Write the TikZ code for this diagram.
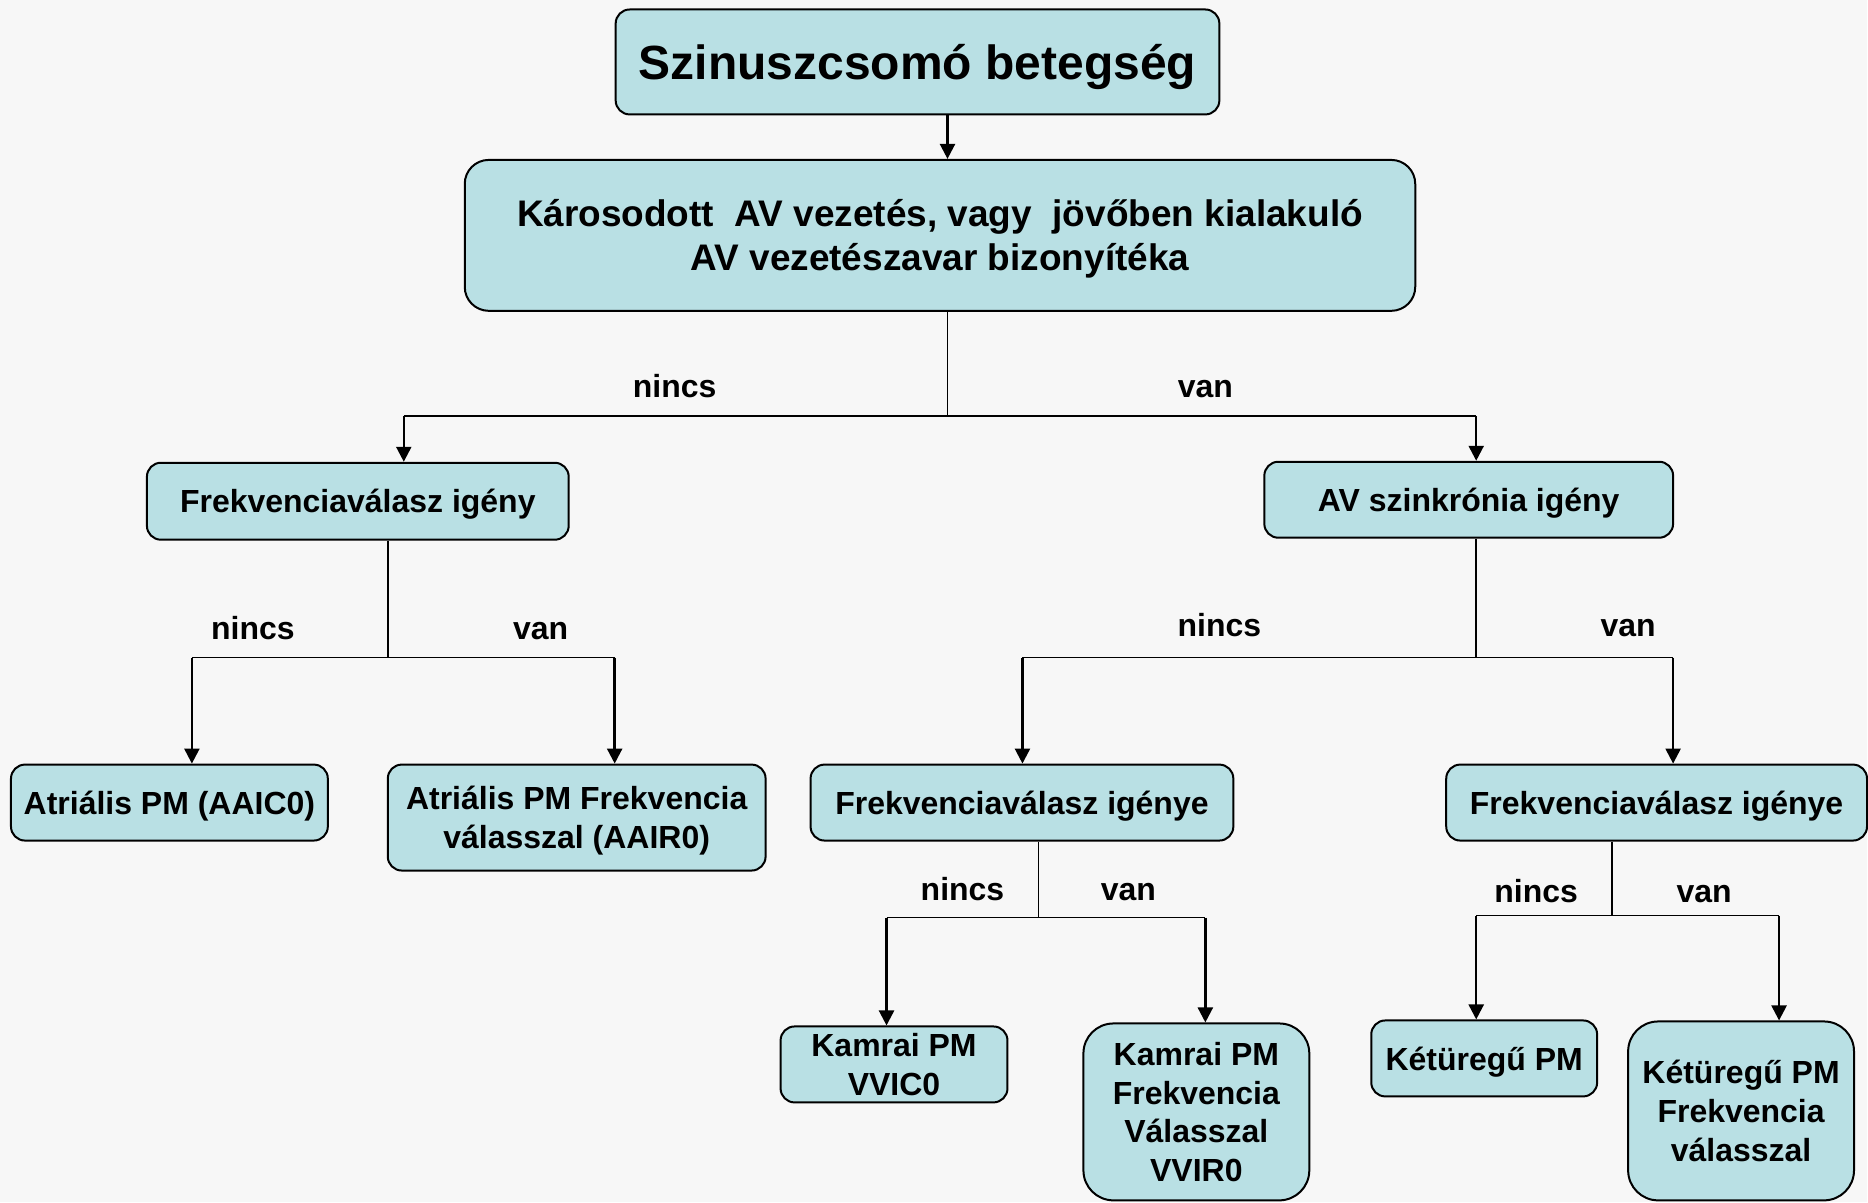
\documentclass[tikz,border=0pt]{standalone}
\usepackage{fontspec}
\setmainfont{Liberation Sans}
\usetikzlibrary{arrows.meta}
\definecolor{boxfill}{RGB}{185,224,228}
\definecolor{bgfill}{RGB}{247,247,247}
\begin{document}
\begin{tikzpicture}[x=0.5pt, y=-0.5pt,
      box/.style={draw, line width=1pt, fill=boxfill, rounded corners=7pt, align=center,
        inner sep=0pt, text depth=0pt, font=\bfseries\fontsize{16}{19.4}\selectfont},
      tallbox/.style={box, rounded corners=15pt},
      lbl/.style={text height=11.6pt, text depth=0pt, font=\bfseries\fontsize{16}{19.2}\selectfont},
      link/.style={line width=0.8pt},
      arr/.style={line width=1.2pt, -{Triangle[length=7.5pt, width=7.5pt]}}]
  \fill[bgfill] (0,0) rectangle (1868,1203);
  % boxes
  \node[box, minimum width=302pt, minimum height=52.5pt,
    font=\bfseries\fontsize{24}{28}\selectfont] (szin) at (918,62) {Szinuszcsomó betegség};
  \node[box, rounded corners=12pt, minimum width=475.5pt, minimum height=75.5pt,
    font=\bfseries\fontsize{18.5}{22}\selectfont] (kar) at (940.5,235.5)
    {Károsodott~ AV vezetés, vagy~ jövőben kialakuló\\AV vezetészavar bizonyítéka};
  \node[box, minimum width=211pt, minimum height=38.5pt] (fri) at (358,501.5) {Frekvenciaválasz igény};
  \node[box, minimum width=204.5pt, minimum height=38pt] (avsz) at (1469.5,500) {AV szinkrónia igény};
  \node[box, minimum width=158.5pt, minimum height=38pt] (aaic) at (169.5,803) {Atriális PM (AAIC0)};
  \node[box, minimum width=189pt, minimum height=53pt] (aair) at (577,818) {Atriális PM Frekvencia\\válasszal (AAIR0)};
  \node[box, minimum width=211.5pt, minimum height=38pt] (frl) at (1022.5,803) {Frekvenciaválasz igénye};
  \node[box, minimum width=210.5pt, minimum height=38pt] (frr) at (1657.5,803) {Frekvenciaválasz igénye};
  \node[box, minimum width=113.5pt, minimum height=38pt] (vvic) at (894.5,1065) {Kamrai PM\\VVIC0};
  \node[tallbox, minimum width=113pt, minimum height=88.5pt] (vvir) at (1197,1112.5) {Kamrai PM\\Frekvencia\\Válasszal\\VVIR0};
  \node[box, minimum width=113pt, minimum height=38pt] (ket) at (1485,1059) {Kétüregű PM};
  \node[tallbox, minimum width=113pt, minimum height=89.5pt] (ketf) at (1742,1111.5) {Kétüregű PM\\Frekvencia\\válasszal};
  % junctions
  \coordinate (j0) at (948,416);
  \coordinate (b0l) at (404,416);
  \coordinate (b0r) at (1477,416);
  \coordinate (j1) at (388,658);
  \coordinate (b1l) at (192,658);
  \coordinate (b1r) at (615,658);
  \coordinate (j2) at (1477,658);
  \coordinate (b2l) at (1023,658);
  \coordinate (b2r) at (1674,658);
  \coordinate (j3) at (1039,918);
  \coordinate (b3l) at (887,918);
  \coordinate (b3r) at (1206,918);
  \coordinate (j4) at (1613,916);
  \coordinate (b4l) at (1477,916);
  \coordinate (b4r) at (1780,916);
  % connectors
  \draw[arr] (szin.south -| j0) -- (kar.north -| j0);
  \draw[link] (kar.south -| j0) -- (j0);
  \draw[link] (b0l) -- (b0r);
  \draw[arr] (b0l) -- (b0l |- fri.north);
  \draw[arr] (b0r) -- (b0r |- avsz.north);
  \draw[link] (fri.south -| j1) -- (j1);
  \draw[link] (b1l) -- (b1r);
  \draw[arr] (b1l) -- (b1l |- aaic.north);
  \draw[arr] (b1r) -- (b1r |- aair.north);
  \draw[link] (avsz.south -| j2) -- (j2);
  \draw[link] (b2l) -- (b2r);
  \draw[arr] (b2l) -- (b2l |- frl.north);
  \draw[arr] (b2r) -- (b2r |- frr.north);
  \draw[link] (frl.south -| j3) -- (j3);
  \draw[link] (b3l) -- (b3r);
  \draw[arr] (b3l) -- (b3l |- vvic.north);
  \draw[arr] (b3r) -- (b3r |- vvir.north);
  \draw[link] (frr.south -| j4) -- (j4);
  \draw[link] (b4l) -- (b4r);
  \draw[arr] (b4l) -- (b4l |- ket.north);
  \draw[arr] (b4r) -- (b4r |- ketf.north);
  % labels
  \node[lbl] (n0) at (675,386) {nincs};
  \node[lbl] (v0) at (1206,386) {van};
  \node[lbl] (n1) at (253,628) {nincs};
  \node[lbl] (v1) at (541,628) {van};
  \node[lbl] (n2) at (1220,625) {nincs};
  \node[lbl] (v2) at (1629,625) {van};
  \node[lbl] (n3) at (963,889) {nincs};
  \node[lbl] (v3) at (1129,889) {van};
  \node[lbl] (n4) at (1537,891) {nincs};
  \node[lbl] (v4) at (1705,891) {van};
\end{tikzpicture}
\end{document}
